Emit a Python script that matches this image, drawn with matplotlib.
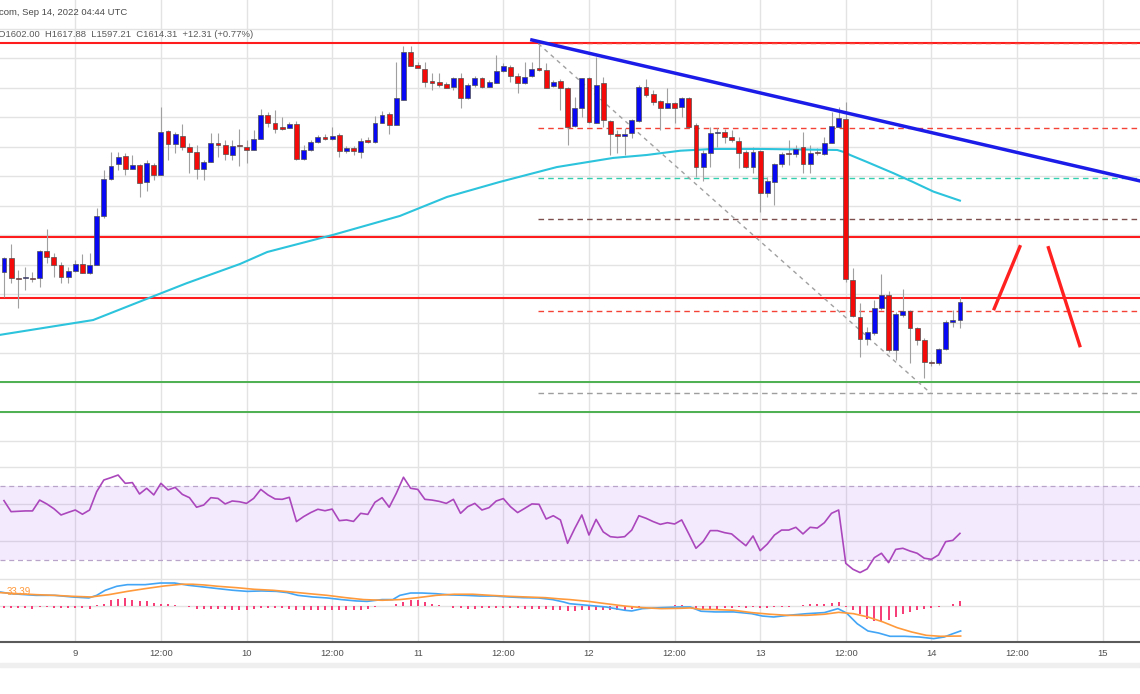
import numpy as np
import matplotlib.pyplot as plt
from matplotlib.patches import Rectangle

plt.rcParams['font.family'] = ['Liberation Sans', 'DejaVu Sans']

# hourly candles, hours counted from Sep 9 00:00 (Sep 8 14:00 .. Sep 14 04:00)
hours = np.arange(-10, 125)

opens = [1635.1, 1644.2, 1630.9, 1630.7, 1630.9, 1631.1, 1649.4, 1644.9, 1639.7, 1631.3,
         1635.8, 1640.4, 1634.1, 1639.7, 1673.0, 1697.9, 1708.3, 1713.7, 1705.1, 1707.4,
         1696.3, 1707.6, 1700.8, 1730.9, 1721.9, 1727.3, 1719.6, 1716.2, 1704.7, 1709.8,
         1722.3, 1721.2, 1714.4, 1720.5, 1720.0, 1717.8, 1725.3, 1741.4, 1735.9, 1733.2,
         1732.9, 1735.2, 1711.5, 1717.8, 1723.4, 1726.8, 1725.3, 1728.0, 1717.1, 1718.9,
         1716.2, 1724.6, 1723.0, 1736.3, 1742.2, 1734.8, 1751.7, 1784.5, 1775.5, 1772.6,
         1764.4, 1763.8, 1762.4, 1760.8, 1766.5, 1752.9, 1761.9, 1766.5, 1760.8, 1763.5,
         1771.4, 1774.4, 1768.2, 1763.1, 1768.0, 1773.3, 1772.1, 1761.5, 1764.9, 1759.7,
         1734.1, 1746.1, 1766.5, 1736.3, 1763.1, 1737.7, 1728.5, 1727.3, 1729.1, 1737.7,
         1760.4, 1755.6, 1751.1, 1746.1, 1749.5, 1746.8, 1752.9, 1734.8, 1706.4, 1715.6,
         1729.1, 1730.2, 1726.4, 1724.1, 1716.6, 1706.4, 1717.1, 1688.4, 1696.3, 1708.3,
         1715.8, 1715.1, 1719.6, 1708.3, 1716.6, 1715.1, 1722.3, 1733.2, 1738.6, 1629.5,
         1604.6, 1589.2, 1593.3, 1610.7, 1619.3, 1582.0, 1605.7, 1608.5, 1597.1, 1588.8,
         1574.0, 1572.9, 1582.4, 1600.8, 1602.00]

highs = [1645.3, 1654.0, 1636.3, 1638.1, 1635.1, 1649.9, 1664.1, 1647.6, 1641.9, 1638.5,
         1643.1, 1647.2, 1647.6, 1678.2, 1704.2, 1716.6, 1716.6, 1715.6, 1714.4, 1708.0,
         1711.0, 1708.8, 1747.2, 1731.4, 1730.2, 1735.4, 1722.3, 1721.2, 1711.0, 1729.1,
         1729.5, 1724.6, 1724.6, 1731.8, 1724.6, 1731.4, 1745.4, 1743.8, 1745.0, 1740.0,
         1737.0, 1737.5, 1721.2, 1724.6, 1728.0, 1728.5, 1733.6, 1729.1, 1720.5, 1720.5,
         1725.7, 1726.8, 1740.9, 1744.3, 1743.8, 1777.8, 1788.4, 1788.4, 1777.8, 1777.8,
         1769.9, 1769.9, 1764.2, 1767.2, 1769.9, 1763.1, 1768.0, 1767.6, 1765.3, 1782.3,
         1776.7, 1775.5, 1769.9, 1777.8, 1777.8, 1789.1, 1776.7, 1765.3, 1766.0, 1760.8,
         1753.6, 1766.5, 1767.4, 1781.2, 1767.6, 1738.2, 1731.4, 1732.5, 1738.6, 1761.9,
         1765.8, 1758.5, 1751.7, 1760.1, 1750.6, 1753.6, 1754.0, 1735.9, 1717.8, 1733.6,
         1732.5, 1731.8, 1731.4, 1726.8, 1717.8, 1720.0, 1717.8, 1699.7, 1708.8, 1716.6,
         1724.6, 1721.2, 1730.2, 1721.2, 1718.9, 1726.8, 1743.8, 1747.2, 1750.4, 1637.5,
         1613.7, 1597.8, 1615.9, 1633.6, 1622.2, 1608.0, 1623.4, 1609.1, 1597.8, 1589.9,
         1575.2, 1583.1, 1602.3, 1609.1, 1617.88]

lows = [1618.2, 1627.7, 1610.3, 1622.7, 1628.4, 1625.0, 1640.8, 1631.7, 1627.7, 1627.3,
        1635.1, 1634.1, 1633.6, 1639.7, 1671.4, 1697.4, 1704.2, 1700.8, 1704.7, 1686.1,
        1690.2, 1697.4, 1700.8, 1711.0, 1715.6, 1717.8, 1702.0, 1697.9, 1697.4, 1709.8,
        1713.2, 1711.0, 1711.0, 1706.9, 1708.8, 1717.8, 1725.3, 1733.6, 1729.1, 1731.4,
        1732.5, 1711.0, 1711.0, 1717.3, 1722.7, 1724.6, 1724.6, 1713.2, 1715.6, 1714.4,
        1712.2, 1722.3, 1722.7, 1735.9, 1728.7, 1734.8, 1751.7, 1774.8, 1773.3, 1760.8,
        1758.5, 1760.8, 1759.7, 1758.5, 1746.1, 1752.2, 1760.8, 1759.7, 1760.4, 1763.1,
        1771.0, 1764.2, 1756.3, 1762.6, 1767.6, 1771.6, 1759.7, 1760.8, 1745.0, 1721.2,
        1733.6, 1740.4, 1735.9, 1735.9, 1733.6, 1714.4, 1715.6, 1714.4, 1725.7, 1737.0,
        1754.0, 1748.3, 1731.4, 1746.1, 1735.9, 1740.4, 1733.2, 1699.7, 1696.7, 1706.0,
        1720.0, 1722.3, 1723.4, 1705.4, 1705.4, 1702.0, 1675.9, 1686.1, 1680.4, 1706.4,
        1707.6, 1712.8, 1702.0, 1702.0, 1714.4, 1714.4, 1722.3, 1732.5, 1628.1, 1604.6,
        1577.0, 1585.4, 1592.2, 1609.1, 1580.8, 1575.2, 1604.6, 1573.1, 1585.4, 1563.0,
        1571.1, 1571.8, 1582.0, 1597.8, 1597.21]

closes = [1644.2, 1630.7, 1630.2, 1630.9, 1630.2, 1649.4, 1644.9, 1639.7, 1631.3, 1635.8,
          1640.2, 1634.5, 1639.7, 1673.2, 1697.9, 1706.9, 1712.8, 1705.1, 1707.4, 1695.2,
          1709.2, 1700.8, 1730.2, 1721.9, 1728.5, 1719.6, 1716.2, 1704.7, 1709.6, 1722.3,
          1721.2, 1715.1, 1720.5, 1720.2, 1717.8, 1725.3, 1741.4, 1735.9, 1732.1, 1732.1,
          1735.2, 1711.5, 1717.8, 1723.0, 1726.8, 1725.3, 1727.5, 1717.1, 1718.9, 1717.1,
          1724.1, 1723.0, 1736.3, 1741.8, 1734.8, 1752.9, 1784.5, 1775.0, 1773.7, 1763.8,
          1763.5, 1761.9, 1760.1, 1766.5, 1752.9, 1761.9, 1766.5, 1760.4, 1763.8, 1771.4,
          1775.0, 1768.2, 1763.1, 1767.6, 1772.6, 1772.1, 1760.1, 1764.0, 1759.7, 1733.2,
          1746.1, 1766.5, 1737.0, 1761.9, 1738.2, 1728.5, 1727.3, 1728.7, 1738.2, 1760.8,
          1755.1, 1750.2, 1746.1, 1749.5, 1746.5, 1752.9, 1733.6, 1706.4, 1715.6, 1729.1,
          1730.2, 1726.4, 1724.6, 1716.0, 1706.4, 1716.6, 1688.4, 1696.9, 1708.3, 1715.1,
          1715.1, 1718.5, 1708.3, 1716.0, 1715.6, 1722.3, 1734.3, 1739.3, 1630.2, 1605.3,
          1589.2, 1594.0, 1610.7, 1619.3, 1582.0, 1606.4, 1608.5, 1596.7, 1588.8, 1574.0,
          1572.9, 1582.4, 1600.8, 1602.0, 1614.31]

# 100 EMA (read at points along the curve)
ema_t = [-10.6, 2.5, 10.5, 15.6, 23.1, 26.9, 36.1, 45.5, 52.1, 59.5, 67.5, 75.4, 80.1,
         84.8, 89.4, 96.0, 106.8, 108.0, 108.6, 110.9, 114.7, 117.4, 120.3, 124.0]
ema_v = [1592.2, 1602.3, 1617.6, 1627.3, 1640.4, 1648.5, 1660.1, 1673.0, 1685.9, 1696.1,
         1706.2, 1712.4, 1714.4, 1717.3, 1718.5, 1718.5, 1717.8, 1716.0, 1714.4, 1709.8,
         1702.0, 1696.1, 1689.5, 1683.4]

# chart drawings
resistance = [1790.3, 1658.8, 1617.5]
support = [1560.4, 1539.7]
trend_t = [64.0, 149.3]
trend_p = [1792.5, 1696.7]
fib_start = 64.9
fib_levels = [1790.3, 1733.0, 1698.7, 1670.7, 1608.5, 1552.6]
fib_colors = ['#f44336', '#f44336', '#33cfae', '#7d4f4f', '#f44336', '#9e9e9e']
fib_diag_t = [64.9, 119.9]
fib_diag_p = [1790.0, 1552.6]
path_up_t, path_up_p = [128.8, 132.4], [1610.0, 1652.1]
path_dn_t, path_dn_p = [136.4, 140.8], [1651.4, 1584.9]

rsi = [62.0, 56.0, 56.2, 56.4, 56.4, 62.3, 60.2, 57.6, 54.2, 55.6,
       56.9, 54.6, 56.9, 66.9, 73.2, 74.5, 75.9, 71.4, 71.8, 65.6,
       68.7, 65.1, 71.4, 67.8, 69.2, 65.4, 63.6, 58.4, 59.6, 63.6,
       63.2, 60.2, 61.8, 61.4, 60.5, 63.2, 68.1, 65.1, 62.9, 62.7,
       63.8, 50.6, 53.3, 55.5, 57.3, 56.5, 57.4, 51.1, 51.5, 50.7,
       55.1, 54.5, 61.1, 63.6, 58.4, 66.0, 74.7, 68.7, 68.1, 62.7,
       62.3, 61.6, 60.5, 62.7, 55.1, 58.7, 60.5, 56.9, 58.2, 61.8,
       63.1, 58.7, 55.5, 57.8, 60.2, 60.0, 52.0, 53.8, 51.5, 38.8,
       46.8, 54.2, 43.3, 51.8, 45.0, 42.4, 42.0, 42.4, 46.0, 53.8,
       52.4, 50.6, 49.1, 50.0, 49.3, 51.5, 43.9, 36.1, 39.7, 45.7,
       45.7, 44.6, 43.9, 40.6, 37.5, 42.8, 34.8, 38.4, 43.3, 46.0,
       46.0, 47.5, 43.9, 47.5, 47.1, 50.0, 55.1, 56.9, 27.9, 24.7,
       22.9, 24.9, 31.0, 33.4, 28.3, 35.5, 36.1, 34.6, 33.4, 30.7,
       30.1, 32.5, 39.7, 40.4, 44.2]

macd_t = [-10.6, -9.0, -5.5, -2.9, -0.4, 1.9, 3.0, 4.2, 5.8, 7.3, 9.8, 11.9, 13.9, 15.9,
          18.0, 20.0, 22.1, 24.1, 26.1, 28.2, 29.7, 31.2, 33.3, 35.3, 37.3, 39.4, 40.9,
          43.0, 44.5, 45.5, 47.0, 48.6, 50.6, 52.6, 54.7, 56.7, 58.7, 60.8, 62.8, 64.9,
          66.9, 68.4, 69.3, 71.9, 74.4, 77.0, 78.0, 79.5, 82.1, 84.6, 86.2, 87.7, 89.7,
          92.3, 94.8, 96.3, 97.9, 99.9, 102.5, 105.0, 106.9, 108.1, 109.6, 111.1, 112.6,
          114.2, 116.2, 118.3, 120.3, 121.8, 122.8, 124.1]
macd_v = [10.5, 9.2, 8.0, 8.0, 6.8, 6.1, 8.0, 11.7, 14.6, 15.8, 15.8, 17.0, 17.0, 15.3,
          14.1, 12.9, 11.7, 10.9, 11.2, 10.9, 10.0, 8.0, 6.8, 6.1, 4.9, 3.9, 3.6,
          4.9, 4.9, 8.0, 9.7, 9.7, 9.2, 8.3, 8.0, 7.5, 7.5, 6.8, 6.3, 6.1,
          4.9, 3.2, 1.9, 0.7, -0.5, -2.9, -3.4, -1.7, -1.0, -0.5, -0.5, -3.6, -4.1,
          -4.1, -5.4, -7.1, -7.8, -6.6, -5.4, -4.6, -1.7, -4.9, -12.7, -18.0, -19.5,
          -21.9, -21.9, -22.4, -23.6, -22.4, -20.4, -18.0]
sig_t = [-10.6, -8.0, -5.5, -2.9, -0.4, 2.2, 4.7, 7.3, 9.8, 12.4, 14.9, 16.4, 18.0, 20.0,
         22.6, 25.1, 27.7, 30.2, 32.8, 35.3, 37.9, 40.4, 43.0, 45.5, 48.0, 50.6, 53.1,
         55.7, 58.2, 60.8, 63.3, 65.9, 67.9, 69.3, 71.9, 74.4, 77.0, 79.5, 82.1, 84.6,
         86.2, 87.7, 89.7, 92.3, 94.8, 97.4, 99.9, 102.5, 105.0, 107.0, 109.1, 111.1,
         113.2, 115.2, 117.2, 119.3, 121.3, 124.1]
sig_v = [10.0, 9.2, 8.5, 8.0, 7.3, 6.8, 8.5, 10.9, 12.9, 14.8, 16.1, 16.1, 15.6, 14.6,
         13.6, 12.4, 11.7, 10.5, 9.2, 8.0, 6.3, 4.9, 4.4, 4.9, 6.3, 8.0, 8.8,
         8.8, 8.0, 7.3, 6.8, 6.3, 5.4, 4.9, 3.6, 1.9, 0.2, -1.0, -1.7, -1.5,
         -1.2, -2.2, -2.4, -2.9, -4.6, -5.8, -6.6, -6.6, -5.8, -4.4, -5.4, -7.8,
         -11.4, -15.6, -18.7, -21.2, -21.9, -21.7]
hist = [-1.0, -1.2, -1.2, -1.2, -1.9, -0.7, -0.7, -1.0, -1.0, -1.2,
        -1.2, -1.2, -1.7, 0.7, 1.9, 4.4, 5.6, 6.1, 4.9, 3.9,
        3.6, 2.4, 1.9, 1.5, 1.0, 0.2, -0.5, -1.7, -1.9, -1.9,
        -1.9, -2.2, -2.4, -2.4, -2.4, -1.7, -1.5, -1.2, -1.2, -1.5,
        -1.9, -2.4, -2.9, -2.9, -2.9, -2.9, -2.9, -2.9, -2.9, -2.9,
        -2.4, -1.9, -0.5, 0.2, 0.5, 1.5, 3.2, 4.4, 4.4, 3.2,
        1.9, 1.0, 0.0, -1.0, -1.5, -1.7, -1.7, -1.5, -1.5, -1.5,
        -1.2, -1.2, -1.5, -1.7, -1.7, -1.9, -2.2, -2.4, -2.9, -3.4,
        -3.4, -2.9, -2.9, -2.4, -2.4, -2.4, -2.9, -2.9, -2.2, -1.0,
        0.0, 0.5, 0.5, 0.5, 0.7, 1.0, 0.5, -1.0, -1.9, -2.2,
        -1.9, -1.5, -1.0, -0.7, -1.0, -0.5, -1.2, -1.2, -0.7, -0.7,
        -0.5, 0.5, 1.0, 1.5, 1.5, 1.9, 2.4, 3.2, -0.5, -2.9,
        -5.8, -9.0, -10.7, -11.4, -9.7, -7.8, -5.4, -4.1, -2.9, -2.2,
        -1.0, -0.5, 0.5, 1.5, 3.9]

tick_hours = np.arange(0, 145, 12)
tick_labels = ['9', '12:00', '10', '12:00', '11', '12:00', '12', '12:00',
               '13', '12:00', '14', '12:00', '15']

W, H = 1140, 694
fig = plt.figure(figsize=(W / 100, H / 100), dpi=100)


def pane(top, bottom, **kw):
    return fig.add_axes([0, 1 - bottom / H, 1, (bottom - top) / H], **kw)


ax = pane(0, 458)
ax_rsi = pane(458, 575, sharex=ax)
ax_macd = pane(575, 642, sharex=ax)

for a in (ax, ax_rsi, ax_macd):
    for s in a.spines.values():
        s.set_visible(False)
    a.set_xticks(tick_hours)
    a.grid(True, color='#e3e3e3', lw=1)
    a.set_axisbelow(True)
    a.tick_params(left=False, labelleft=False, bottom=False, labelbottom=False)

ax.set_xlim(-10.555, 149.24)

# --- price pane ---
ax.set_ylim(1508.6, 1819.66)
ax.set_yticks(np.arange(1520, 1801, 20))

o = np.array(opens)
c = np.array(closes)
body_lo = np.minimum(o, c)
body_h = np.maximum(np.abs(c - o), 0.7)
cols = np.where(c >= o, '#0808f5', '#f50a0a')
ax.vlines(hours, lows, highs, color='#a0a0a0', lw=0.8, zorder=3)
ax.bar(hours, body_h, bottom=body_lo, width=0.68, color=cols,
       edgecolor='#505050', lw=0.5, zorder=4)

ax.plot(ema_t, ema_v, color='#2cc3dc', lw=1.5, zorder=3)

for lvl in resistance:
    ax.axhline(lvl, color='#ff1c1c', lw=1.5, zorder=2)
for lvl in support:
    ax.axhline(lvl, color='#4caf50', lw=1.4, zorder=2)
ax.hlines(fib_levels, fib_start, 150, colors=fib_colors, lw=1,
          linestyles=(0, (4, 3)), zorder=2)
ax.plot(fib_diag_t, fib_diag_p, color='#a0a0a0', lw=1, ls=(0, (3, 3)), zorder=2)
ax.plot(trend_t, trend_p, color='#1c1ce8', lw=2.5, zorder=5)
ax.plot(path_up_t, path_up_p, color='#ff2020', lw=2.4, zorder=5)
ax.plot(path_dn_t, path_dn_p, color='#ff2020', lw=2.4, zorder=5)

fig.text(-1 / W, 1 - 12.5 / H, 'com, Sep 14, 2022 04:44 UTC', fontsize=6.8,
         color='#4a4a4a', va='center')
fig.text(-2 / W, 1 - 34.5 / H,
         'O1602.00  H1617.88  L1597.21  C1614.31  +12.31 (+0.77%)',
         fontsize=6.8, color='#5a5a5a', va='center')

# --- RSI pane ---
ax_rsi.set_ylim(21.58, 85.16)
ax_rsi.set_yticks([40, 60, 80])
ax_rsi.axhspan(30, 70, color='#a855f7', alpha=0.12, lw=0, zorder=1)
for lvl in (30, 70):
    ax_rsi.axhline(lvl, color='#b8a4c8', lw=0.9, ls=(0, (4, 3)), zorder=2)
ax_rsi.plot(hours, rsi, color='#ab47bc', lw=1.2, zorder=3)

# --- MACD pane ---
ax_macd.set_ylim(-26.06, 22.85)
ax_macd.set_yticks([0, 20])
ax_macd.bar(hours, hist, width=0.28, color='#f5407a', zorder=3)
ax_macd.plot(macd_t, macd_v, color='#42a5f5', lw=1.2, zorder=4)
ax_macd.plot(sig_t, sig_v, color='#ff9a3c', lw=1.2, zorder=4)
fig.text(7 / W, 1 - 592 / H, '33.39', fontsize=7, color='#ff9a3c', va='center')

ax_macd.spines['bottom'].set_visible(True)
ax_macd.spines['bottom'].set_color('#5a5a5a')
ax_macd.spines['bottom'].set_linewidth(1.5)
ax_macd.set_xticks(tick_hours)
ax_macd.set_xticklabels(tick_labels)
ax_macd.tick_params(labelbottom=True, length=0, pad=5, labelsize=6.8,
                    labelcolor='#505050')

fig.patches.append(Rectangle((0, 1 - 667 / H), 1, 4 / H, transform=fig.transFigure,
                             color='#efefef', zorder=0))

fig.savefig('out.png', dpi=100)
